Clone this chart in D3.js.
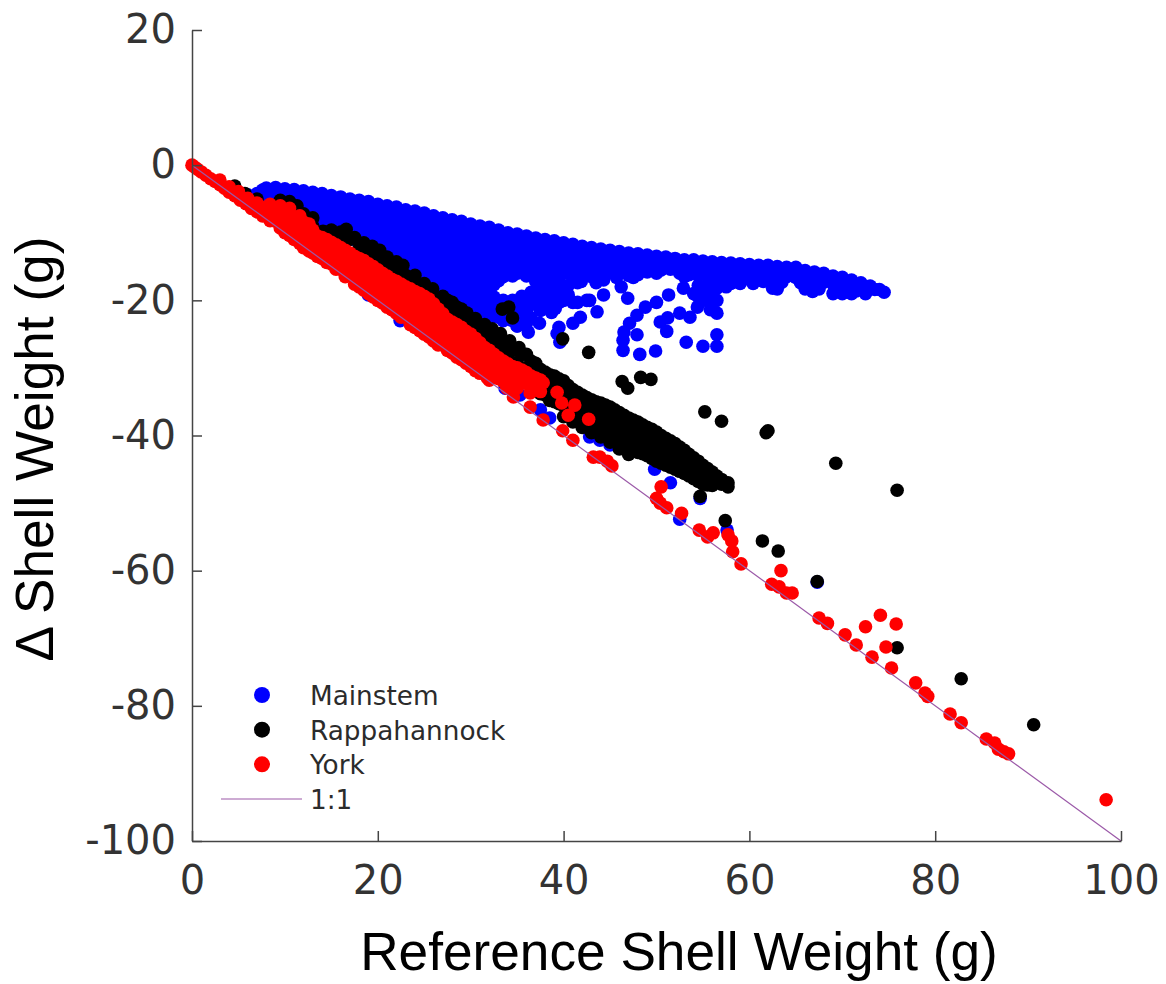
<!DOCTYPE html>
<html lang="en">
  <head>
    <meta charset="UTF-8" />
    <title>Shell weight</title>
    <style>
      body {
        margin: 0;
        background: #fff;
      }
    </style>
  </head>
  <body>
    <svg id="svg" width="1166" height="984"></svg>
    <script src="https://cdn.jsdelivr.net/npm/d3@7"></script>
    <script>
      // DATA as [reference weight, delta weight]
      const xTicks = [0, 20, 40, 60, 80, 100];
      const yTicks = [20, 0, -20, -40, -60, -80, -100];
      const oneToOne = [[0, 0], [100, -100]];

      const mainstem = [
        [6, -4.4], [7, -4.2], [7.6, -3.7], [8, -3.4], [8, -5], [9, -3.3], [9, -4.6], [9, -6],
        [10, -3.5], [10, -5], [10, -6.5], [11, -3.6], [11, -5.1], [11, -6.6],
        [12, -3.8], [12, -5.3], [12, -6.8], [13, -4], [13, -5.5], [13, -7],
        [14, -4.2], [14, -5.7], [14, -7.2], [14, -8.5], [15, -4.5], [15, -6], [15, -7.5], [15, -9],
        [16, -4.7], [16, -6.2], [16, -7.7], [16, -9.2], [17, -5], [17, -6.5], [17, -8], [17, -9.5], [17, -10.5],
        [18, -5.2], [18, -6.7], [18, -8.2], [18, -9.7], [18, -11], [19, -5.4], [19, -6.9], [19, -8.4], [19, -9.9], [19, -11.4],
        [20, -5.8], [20, -7.3], [20, -8.8], [20, -10.3], [20, -11.8], [20, -12.8],
        [21, -6], [21, -7.5], [21, -9], [21, -10.5], [21, -12], [21, -13.3],
        [22, -6.2], [22, -7.7], [22, -9.2], [22, -10.7], [22, -12.2], [22, -13.7],
        [23, -6.6], [23, -8.1], [23, -9.6], [23, -11.1], [23, -12.6], [23, -14.1], [23, -15.2],
        [24, -6.8], [24, -8.3], [24, -9.8], [24, -11.3], [24, -12.8], [24, -14.3], [24, -15.8],
        [25, -7.1], [25, -8.6], [25, -10.1], [25, -11.6], [25, -13.1], [25, -14.6], [25, -16.1], [25, -17],
        [26, -7.5], [26, -9], [26, -10.5], [26, -12], [26, -13.5], [26, -15], [26, -16.5], [26, -18],
        [27, -7.8], [27, -9.3], [27, -10.8], [27, -12.3], [27, -13.8], [27, -15.3], [27, -16.8], [27, -18.3], [27, -19],
        [28, -8.1], [28, -9.6], [28, -11.1], [28, -12.6], [28, -14.1], [28, -15.6], [28, -17.1], [28, -18.6], [28, -20],
        [29, -8.3], [29, -9.8], [29, -11.3], [29, -12.8], [29, -14.3], [29, -15.8], [29, -17.3], [29, -18.8], [29, -20.5],
        [30, -8.7], [30, -10.2], [30, -11.7], [30, -13.2], [30, -14.7], [30, -16.2], [30, -17.7], [30, -19.2], [30, -21],
        [31, -9], [31, -10.5], [31, -12], [31, -13.5], [31, -15], [31, -16.5], [31, -18], [31, -19.5], [31, -21],
        [32, -9.2], [32, -10.7], [32, -12.2], [32, -13.7], [32, -15.2], [32, -16.7], [32, -18.2], [32, -21.5],
        [33, -9.6], [33, -11.1], [33, -12.6], [33, -14.1], [33, -15.6], [33, -17.1], [33, -21], [33, -22.5],
        [34, -10], [34, -11.5], [34, -13], [34, -14.5], [34, -16], [34, -20.6], [34, -22.2],
        [35, -10.2], [35, -11.7], [35, -13.2], [35, -14.7], [35, -16], [35, -20.4], [35, -22], [35, -23.8],
        [36, -10.5], [36, -12], [36, -13.5], [36, -15], [36, -16.4], [36, -20], [36, -21.5], [36, -23.4], [36.2, -24.7],
        [37, -10.8], [37, -12.3], [37, -13.8], [37, -15.3], [37, -17.2], [37, -19.5], [37.4, -23.4],
        [38, -11], [38, -12.5], [38, -14], [38, -15.5], [38, -17], [38, -19], [38, -20.5],
        [39, -11.2], [39, -12.7], [39, -14.2], [39, -15.7], [39, -17.2], [39, -19.5], [39.1, -21.2], [38.7, -21.8],
        [40, -11.5], [40, -13], [40, -14.5], [40, -16], [40, -18], [40, -20],
        [41, -11.7], [41, -13.2], [41, -14.7], [41, -17], [41, -20.3], [41.9, -17.2],
        [42, -12], [42, -13.5], [42, -15], [43, -12.2], [43, -13.7], [43, -15.2], [43, -16.5],
        [44, -12.4], [44, -13.9], [44, -15.2], [45, -12.6], [45, -14.1], [45, -15.6],
        [46, -12.8], [46, -14.3], [46, -15.8], [47, -13], [47, -14.5], [47, -16.3],
        [48, -13.1], [48, -14.6], [48, -16.2], [49, -13.3], [49, -14.8], [49, -15.8],
        [50, -13.5], [50, -15], [50, -16], [51, -13.6], [51, -15], [52, -13.8], [52, -15.2],
        [53, -14], [53, -15.4], [53, -16.5], [54, -14], [54, -15.4], [54, -19], [54.6, -18.7],
        [55, -14.2], [55, -15.6], [55, -20], [55.8, -19.5], [56, -14.3], [56, -15.8], [56, -17.3], [56, -20.5],
        [57, -14.4], [57, -15.9], [57, -17.3], [58, -14.5], [58, -16], [58, -17.5],
        [59, -14.6], [59, -16], [59, -17.5], [60, -14.7], [60, -16], [60.4, -17.5],
        [61, -14.8], [61, -16.2], [62, -14.8], [62, -16.3], [62.5, -18.2], [63, -15], [63, -16.5], [63, -18.3],
        [64, -15.1], [64, -16.5], [65, -15.1], [65, -16.6], [66, -15.6], [66, -17], [66, -18.3],
        [67, -15.8], [67, -17.2], [66.8, -18.7], [68, -16], [68, -17.3], [69, -16.4], [69, -17.6], [69, -19],
        [70, -16.6], [70, -17.8], [70, -19], [71, -17], [71, -18], [71, -19], [72, -17.4], [72, -18.3],
        [73, -17.9], [74, -18.4], [74.5, -18.8],
        // in-between columns of the wedge
        [9.5, -4], [9.5, -5.3], [10.5, -4.3], [10.5, -5.8], [11.5, -4.5], [11.5, -6],
        [12.5, -4.7], [12.5, -6.2], [12.5, -7.4], [13.5, -4.9], [13.5, -6.4], [13.5, -7.9],
        [14.5, -5.1], [14.5, -6.6], [14.5, -8.1], [14.5, -9.3], [15.5, -5.3], [15.5, -6.8], [15.5, -8.3], [15.5, -9.5],
        [16.5, -5.6], [16.5, -7.1], [16.5, -8.6], [16.5, -10], [17.5, -5.8], [17.5, -7.3], [17.5, -8.8], [17.5, -10.3], [17.5, -11],
        [18.5, -6], [18.5, -7.5], [18.5, -9], [18.5, -10.5], [18.5, -11.5], [19.5, -6.3], [19.5, -7.8], [19.5, -9.3], [19.5, -10.8], [19.5, -12.2],
        [20.5, -6.6], [20.5, -8.1], [20.5, -9.6], [20.5, -11.1], [20.5, -12.6],
        [21.5, -6.8], [21.5, -8.3], [21.5, -9.8], [21.5, -11.3], [21.5, -12.8], [21.5, -14],
        [22.5, -7.1], [22.5, -8.6], [22.5, -10.1], [22.5, -11.6], [22.5, -13.1], [22.5, -14.6],
        [23.5, -7.4], [23.5, -8.9], [23.5, -10.4], [23.5, -11.9], [23.5, -13.4], [23.5, -14.9],
        [24.5, -7.7], [24.5, -9.2], [24.5, -10.7], [24.5, -12.2], [24.5, -13.7], [24.5, -15.2], [24.5, -16.5],
        [25.5, -8], [25.5, -9.5], [25.5, -11], [25.5, -12.5], [25.5, -14], [25.5, -15.5], [25.5, -17],
        [26.5, -8.4], [26.5, -9.9], [26.5, -11.4], [26.5, -12.9], [26.5, -14.4], [26.5, -15.9], [26.5, -17.4], [26.5, -18.6],
        [27.5, -8.7], [27.5, -10.2], [27.5, -11.7], [27.5, -13.2], [27.5, -14.7], [27.5, -16.2], [27.5, -17.7], [27.5, -19.2],
        [28.5, -9], [28.5, -10.5], [28.5, -12], [28.5, -13.5], [28.5, -15], [28.5, -16.5], [28.5, -18], [28.5, -19.5], [28.5, -20.5],
        [29.5, -9.3], [29.5, -10.8], [29.5, -12.3], [29.5, -13.8], [29.5, -15.3], [29.5, -16.8], [29.5, -18.3], [29.5, -19.8], [29.5, -21.2],
        [30.5, -9.6], [30.5, -11.1], [30.5, -12.6], [30.5, -14.1], [30.5, -15.6], [30.5, -17.1], [30.5, -18.6], [30.5, -20.1], [30.5, -21.6],
        [31.5, -9.9], [31.5, -11.4], [31.5, -12.9], [31.5, -14.4], [31.5, -15.9], [31.5, -17.4], [31.5, -18.9], [31.5, -20.4], [31.5, -22],
        [32.5, -10.2], [32.5, -11.7], [32.5, -13.2], [32.5, -14.7], [32.5, -16.2], [32.5, -17.7], [32.5, -19.5], [32.5, -21], [32.5, -22.4],
        [33.5, -10.5], [33.5, -12], [33.5, -13.5], [33.5, -15], [33.5, -16.5], [33.5, -20], [33.5, -21.5], [33.5, -23],
        [34.5, -10.9], [34.5, -12.4], [34.5, -13.9], [34.5, -15.4], [34.5, -16.4], [34.5, -20], [34.5, -21.5], [34.5, -23],
        [35.5, -11.2], [35.5, -12.7], [35.5, -14.2], [35.5, -15.7], [35.5, -19.4], [35.5, -21], [35.5, -22.8],
        [36.5, -11.5], [36.5, -13], [36.5, -14.5], [36.5, -16], [36.5, -18.8], [36.5, -20.6], [36.5, -22.6],
        [37.5, -11.7], [37.5, -13.2], [37.5, -14.7], [37.5, -16.2], [37.5, -18], [37.5, -19.8], [37.5, -21.5],
        [38.5, -11.9], [38.5, -13.4], [38.5, -14.9], [38.5, -16.4], [38.5, -18], [38.5, -19.8],
        [39.5, -12.2], [39.5, -13.7], [39.5, -15.2], [39.5, -16.8], [39.5, -18.4], [39.5, -20.3],
        [40.5, -12.4], [40.5, -13.9], [40.5, -15.3], [40.5, -17.8], [40.5, -19.2],
        [41.5, -12.7], [41.5, -14.2], [41.5, -15.7], [41.5, -17.4], [41.5, -20.3],
        [42.5, -12.9], [42.5, -14.4], [42.5, -15.9], [42.5, -20], [43.5, -13.1], [43.5, -14.6], [43.5, -16], [43.5, -17.4],
        [44.5, -13.3], [44.5, -14.8], [44.5, -16.2], [45.5, -13.5], [45.5, -15], [46.5, -13.6], [46.5, -15.2],
        [47.5, -13.8], [47.5, -15.4], [47.5, -16.6], [48.5, -14], [48.5, -15.4], [49.5, -14.1], [49.5, -15.5],
        [50.5, -14.3], [50.5, -15.5], [51.5, -14.4], [51.5, -15.4], [52.5, -14.6], [52.5, -16], [53.5, -14.7], [53.5, -16.2],
        [54.5, -14.8], [54.5, -16.3], [54.5, -17.8], [54.5, -19.5], [55.5, -15], [55.5, -16.5], [55.5, -18], [55.5, -19.5],
        [56.5, -15], [56.5, -16.6], [56.5, -18.2], [56.5, -20], [57.5, -15.2], [57.5, -16.7], [57.5, -18],
        [58.5, -15.3], [58.5, -16.8], [59.5, -15.4], [59.5, -16.8], [60.5, -15.5], [60.5, -16.7],
        [61.5, -15.6], [61.5, -17.2], [62.5, -15.6], [62.5, -17.2], [63.5, -15.8], [63.5, -17.3], [64.5, -15.8],
        [65.5, -16.1], [65.5, -17.4], [66.5, -16.5], [66.5, -17.8], [67.5, -16.7], [67.5, -18.3], [68.5, -17],
        [69.5, -17.2], [69.5, -18.5], [70.5, -17.5], [70.5, -18.5], [71.5, -18], [71.5, -18.6], [72.5, -18], [72.5, -19], [73.5, -18.4],
        // loose arcs below the wedge
        [56.5, -25.1], [56.5, -26.8], [55, -26.8], [53.2, -26.2], [49.9, -27.5], [48.2, -28],
        [46.4, -27.4], [46.4, -25.9], [46.5, -24.7], [47.9, -25.1], [47.1, -23.4], [47.9, -22.2],
        [48.8, -21], [50, -20.3], [51.3, -19.2], [46.9, -19.7], [46.2, -18], [45.7, -16.6],
        [44.3, -17], [44.3, -19.2], [42.8, -20], [43.6, -21.7], [41.8, -22.5], [41, -23.4],
        [39.5, -24], [39.3, -24.9], [39.6, -26.2], [35, -23.8], [50.4, -23.2], [51.2, -22.6],
        [51.1, -24.6], [52.5, -21.9], [53.6, -22.5], [54.4, -21], [52.9, -18.2], [55.8, -21.4], [56.5, -21.9],
        // low points along the 1:1 line
        [19, -19.2], [22.4, -23], [30.8, -30], [33.7, -33], [35.3, -34], [37.5, -36.2], [38.5, -37.4],
        [42.8, -40.2], [43.9, -40.7], [45, -41.4], [49.8, -45], [51.5, -47], [54.7, -49.3], [52.5, -52.4],
        [57.6, -54], [67.3, -61.7],
      ];

      const rappahannock = [
        [4.6, -3.1], [5.7, -4.2], [7, -5], [9.5, -5.2], [10.5, -5.4], [11.3, -6], [12, -7.2], [13, -7.8],
        [14.1, -9.8], [15, -9.6], [16, -9.9], [16.6, -9.5], [17.5, -10.7], [18.5, -11.5], [19.4, -12],
        [20.2, -12.6], [21, -13.6], [22, -14.3], [22.7, -14.8], [24, -16.3], [25, -17.5], [25.9, -18.3],
        [27, -19.4], [28, -20.3], [29, -21.3], [29.6, -21.9], [30.5, -22.7], [31.5, -23.6], [32.3, -24.2],
        [33.2, -24.9], [34.2, -26], [35.2, -27], [27, -21], [28, -22], [29, -23], [30, -24], [31, -25.2],
        [32, -26.2], [33, -27.2], [34, -28], [35, -29.2],
        [10, -6], [11, -7], [12, -8.2], [13, -9], [14, -10.5], [15, -10.8], [16, -11], [17, -11], [18, -12.3],
        [19, -13], [20, -13.8], [21, -14.8], [22, -15.6], [23, -16.3], [24, -17.4], [25, -18.5], [26, -19.6],
        [27.5, -20], [28.5, -21], [29.5, -22.8], [30.5, -24], [31.5, -24.8], [32.5, -25.8], [33.5, -26.4], [34.5, -27.4], [35.5, -28],
        [36, -28], [36, -30], [37, -29.3], [37, -31], [37, -33], [38, -30.6], [38, -32.3], [38, -34],
        [39, -31.2], [39, -33], [39, -35], [40, -31.9], [40, -33.6], [40, -35.6], [41, -33.2], [41, -35], [41, -36.8],
        [42, -34], [42, -35.7], [42, -37.4], [43, -34.7], [43, -36.4], [43, -38.2], [44, -35.2], [44, -37], [44, -39],
        [45, -35.8], [45, -37.6], [45, -40], [46, -36.6], [46, -38.4], [46, -40.8], [47, -37.4], [47, -39.4], [47, -41.8],
        [48, -38], [48, -40], [48, -42.5], [49, -38.8], [49, -41], [49, -43], [50, -39.5], [50, -41.5], [50, -43.8],
        [51, -40.4], [51, -42.3], [51, -44.4], [52, -41.2], [52, -43], [52, -45], [53, -42.2], [53, -43.8], [53, -45.6],
        [54, -43.3], [54, -44.8], [54, -46.4], [55, -44.4], [55, -45.8], [55, -47.2], [56, -45.4], [56, -46.6], [56, -47.4],
        [57, -46.5], [57, -47.2], [57.7, -47], [57.7, -47.6],
        [36.5, -29], [36.5, -31], [37.5, -30.2], [37.5, -32], [37.5, -33.8], [38.5, -31], [38.5, -33], [38.5, -34.8],
        [39.5, -31.6], [39.5, -33.4], [39.5, -35.3], [40.5, -32.6], [40.5, -34.5], [40.5, -36.2], [41.5, -33.6], [41.5, -35.4], [41.5, -37],
        [42.5, -34.4], [42.5, -36], [42.5, -37.9], [43.5, -35], [43.5, -36.8], [43.5, -38.6], [44.5, -35.5], [44.5, -37.4], [44.5, -39.5],
        [45.5, -36.2], [45.5, -38], [45.5, -40.4], [46.5, -37], [46.5, -39], [46.5, -41.3], [47.5, -37.7], [47.5, -39.8], [47.5, -42.2],
        [48.5, -38.4], [48.5, -40.5], [48.5, -42.7], [49.5, -39.1], [49.5, -41.2], [49.5, -43.4], [50.5, -40], [50.5, -42], [50.5, -44.1],
        [51.5, -40.8], [51.5, -42.7], [51.5, -44.7], [52.5, -41.7], [52.5, -43.4], [52.5, -45.3], [53.5, -42.8], [53.5, -44.3], [53.5, -46],
        [54.5, -43.8], [54.5, -45.3], [54.5, -46.8], [55.5, -44.9], [55.5, -46.2], [55.5, -47.3], [56.5, -46], [56.5, -47],
        // thick middle of the band
        [44, -38], [45, -38.8], [46, -39.6], [47, -40.6], [48, -41.2], [49, -42], [50, -42.7], [51, -43.3], [52, -44], [53, -44.7], [54, -45.6],
        [44.5, -38.4], [45.5, -39.2], [46.5, -40.2], [47.5, -41], [48.5, -41.6], [49.5, -42.3], [50.5, -43], [51.5, -43.7], [52.5, -44.3], [53.5, -45.2],
        [47, -38.4], [48, -39], [49, -39.9], [50, -40.5], [51, -41.3], [47.5, -38.7], [48.5, -39.4], [49.5, -40.1], [50.5, -41], [51.5, -41.7],
        [40, -37.2], [41, -38], [42, -38.8], [43, -39.6], [44, -40.2], [45, -41], [46, -42], [47, -42.8],
        // scattered
        [33.4, -21.3], [34.1, -21], [34.5, -22.6], [39.9, -25.7], [42.7, -27.7], [46.3, -32], [46.9, -33],
        [48.3, -31.4], [49.4, -31.7], [55.2, -36.5], [57, -37.9], [62, -39.3], [61.8, -39.6], [69.3, -44.1],
        [75.9, -48.1], [54.7, -49], [57.4, -52.6], [61.4, -55.6], [63.1, -57.1], [67.3, -61.6], [75.9, -71.4],
        [82.8, -76], [90.6, -82.8],
      ];

      const york = [
        [0, 0], [0.3, -0.3], [0.6, -0.6], [1, -1], [1.5, -1.5], [2, -2], [2.5, -2.4], [3, -2.9], [3.5, -3.4],
        [4, -4], [4.6, -4.5], [5.2, -5.2], [5.8, -5.7], [6.4, -6.4], [7, -6.9], [7.6, -7.5],
        [3, -2.2], [4, -3.2], [5, -3.9], [6, -4.9], [7, -5.6], [8, -6.2],
        [8.4, -5.8], [8.4, -7], [8.4, -8.2], [9.5, -6], [9.5, -7.5], [9.5, -9.3],
        [10.5, -6.4], [10.5, -8], [10.5, -9.5], [10.5, -10.4], [11.6, -7.5], [11.6, -9], [11.6, -10.5], [11.6, -11.6],
        [12.6, -8.7], [12.6, -10.2], [12.6, -11.6], [12.6, -12.7], [13.5, -10.5], [13.5, -12], [13.5, -13.5],
        [14.5, -11], [14.5, -12.5], [14.5, -14.4], [15.5, -11.8], [15.5, -13.3], [15.5, -15.4],
        [16.5, -12.6], [16.5, -14.1], [16.5, -15.6], [16.5, -16.5], [17.5, -13.5], [17.5, -15], [17.5, -16.4], [17.5, -17.6],
        [18.5, -14.1], [18.5, -15.6], [18.5, -17], [18.5, -18.5], [19.5, -15], [19.5, -16.5], [19.5, -18], [19.5, -19.5],
        [20.5, -16], [20.5, -17.5], [20.5, -19], [20.5, -20.4], [21.5, -16.9], [21.5, -18.4], [21.5, -19.9], [21.5, -21.4],
        [22.5, -17.6], [22.5, -19.1], [22.5, -20.6], [22.5, -22.5], [23.5, -18.3], [23.5, -19.8], [23.5, -21.3], [23.5, -22.8], [23.5, -23.6],
        [24.5, -19], [24.5, -20.5], [24.5, -22], [24.5, -23.5], [24.5, -24.5], [25.5, -19.8], [25.5, -21.3], [25.5, -22.8], [25.5, -24.3], [25.5, -25.4],
        [26.5, -21.3], [26.5, -22.8], [26.5, -24.3], [26.5, -25.8], [26.5, -26.6], [27.5, -22.8], [27.5, -24.3], [27.5, -25.8], [27.5, -27.4],
        [28.5, -23.6], [28.5, -25.1], [28.5, -26.6], [28.5, -28.4], [29.5, -24.6], [29.5, -26.1], [29.5, -27.6], [29.5, -29.3],
        [30.5, -25.6], [30.5, -27.1], [30.5, -28.6], [30.5, -30.4], [31.5, -27], [31.5, -28.5], [31.5, -30], [31.8, -31.5],
        [32.5, -28], [32.5, -29.5], [32.5, -31], [33.5, -29], [33.5, -30.5], [33.5, -32], [33.9, -33], [34.5, -29.8], [34.5, -31.3], [34.6, -34.3],
        [35.5, -30.3], [35.5, -32], [36.4, -33.7], [36.4, -35.8], [36.5, -31.2], [37.5, -31.8], [37.5, -33.5], [37.8, -37.7],
        // in-between columns of the band
        [9, -6.6], [9, -8.3], [10, -7], [10, -8.7], [10, -10], [11, -7.7], [11, -9.4], [11, -11], [12, -8.4], [12, -9.8], [12, -11.4], [12, -12.2],
        [13, -9.6], [13, -11], [13, -12.6], [13, -13], [14, -10.7], [14, -12.2], [14, -13.8], [15, -11.4], [15, -13], [15, -14.6],
        [16, -12.2], [16, -13.8], [16, -15.4], [17, -13], [17, -14.6], [17, -16.2], [18, -13.8], [18, -15.3], [18, -17], [18, -18],
        [19, -14.6], [19, -16], [19, -17.6], [19, -19], [20, -15.5], [20, -17], [20, -18.6], [20, -20], [21, -16.4], [21, -18], [21, -19.5], [21, -21],
        [22, -17.2], [22, -18.8], [22, -20.3], [22, -21.9], [23, -18], [23, -19.5], [23, -21], [23, -22.5],
        [24, -18.7], [24, -20.2], [24, -21.7], [24, -23.2], [24, -24], [25, -19.4], [25, -21], [25, -22.5], [25, -24], [25, -25],
        [26, -20.5], [26, -22], [26, -23.6], [26, -25], [26, -26], [27, -22], [27, -23.6], [27, -25], [27, -26.6],
        [28, -23.2], [28, -24.7], [28, -26.2], [28, -27.8], [29, -24], [29, -25.6], [29, -27], [29, -28.8],
        [30, -25], [30, -26.6], [30, -28], [30, -29.8], [31, -26.3], [31, -27.8], [31, -29.3], [31, -30.8],
        [32, -27.4], [32, -29], [32, -30.5], [32, -31.8], [33, -28.5], [33, -30], [33, -31.6],
        [34, -29.4], [34, -31], [34, -32.4], [35, -30], [35, -31.6], [35, -33], [36, -30.7], [36, -32.3], [37, -31.5], [37, -33.2],
        // scattered
        [37.8, -32.2], [39.3, -33.6], [39.8, -35.2], [41.2, -35.5], [40.5, -37], [42.7, -37.6], [39.9, -39.3], [41, -40.7],
        [43.2, -43.2], [43.9, -43.2], [44.7, -43.8], [45.2, -44.5],
        [50.5, -47.6], [50, -49.3], [50.4, -50], [51.1, -50.7], [52.7, -51.5], [54.6, -54], [55.5, -55], [56.1, -54.4],
        [57.7, -54.7], [58.1, -55.6], [58.2, -57.2], [59.1, -59], [63.4, -60], [62.4, -62], [63.2, -62.4], [64, -63.3], [64.6, -63.3],
        [67.5, -67], [68.4, -67.8], [70.3, -69.5], [71.5, -71], [72.5, -68.3], [73.2, -72.8], [74.1, -66.6], [74.7, -71.3],
        [75.3, -74.4], [75.8, -67.9], [77.9, -76.6], [78.9, -78.1], [79.2, -78.6], [81.6, -81.2], [82.8, -82.5],
        [85.5, -84.9], [86.4, -85.5], [86.8, -86.4], [87.4, -86.8], [87.9, -87.1], [98.4, -93.9],
      ];

      const seriesNames = ["Mainstem", "Rappahannock", "York"];
      const seriesColors = ["#0000ff", "#000000", "#ff0000"];
      const lineColor = "#9b59a8";

      // CONSTANTS
      const LEFT = 192;
      const RIGHT = 1121;
      const TOP = 30;
      const BOTTOM = 841;
      const AXIS_COLOR = "#444";
      const TEXT_COLOR = "#2b2b2b";

      const x = d3.scaleLinear().domain([0, 100]).range([LEFT, RIGHT]);
      const y = d3.scaleLinear().domain([-100, 20]).range([BOTTOM, TOP]);

      const svg = d3.select("#svg");

      // Dots
      [mainstem, rappahannock, york].forEach((points, i) => {
        svg
          .append("g")
          .selectAll("circle")
          .data(points)
          .enter()
          .append("circle")
          .attr("cx", (d) => x(d[0]))
          .attr("cy", (d) => y(d[1]))
          .attr("r", 6.8)
          .attr("fill", seriesColors[i]);
      });

      // 1:1 line sits over the dots
      svg
        .append("path")
        .attr("d", d3.line().x((d) => x(d[0])).y((d) => y(d[1]))(oneToOne))
        .attr("fill", "none")
        .attr("stroke", lineColor)
        .attr("stroke-width", 1.2);

      // Axes, ticks point inwards
      const xAxis = svg
        .append("g")
        .attr("transform", `translate(0, ${BOTTOM})`)
        .call(d3.axisBottom(x).tickValues(xTicks).tickFormat(String).tickSizeInner(-10).tickSizeOuter(0).tickPadding(25));
      const yAxis = svg
        .append("g")
        .attr("transform", `translate(${LEFT}, 0)`)
        .call(d3.axisLeft(y).tickValues(yTicks).tickFormat(String).tickSizeInner(-10).tickSizeOuter(0).tickPadding(16));

      [xAxis, yAxis].forEach((axis) => {
        axis.selectAll("path, line").attr("stroke", AXIS_COLOR).attr("stroke-width", 1.5);
        axis
          .selectAll("text")
          .attr("fill", "#333")
          .style("font-family", "DejaVu Sans")
          .style("font-size", "40px");
      });

      // Axis titles
      svg
        .append("text")
        .text("Reference Shell Weight (g)")
        .attr("x", 679)
        .attr("y", 970)
        .attr("text-anchor", "middle")
        .style("font-family", "Liberation Sans")
        .style("font-size", "53.2px");
      svg
        .append("text")
        .text("Δ Shell Weight (g)")
        .attr("transform", "translate(53, 449) rotate(-90)")
        .attr("text-anchor", "middle")
        .style("font-family", "Liberation Sans")
        .style("font-size", "53.2px");

      // Legend
      const legendY = d3.scalePoint().domain(seriesNames.concat("1:1")).range([695, 799]);
      const legend = svg.append("g");
      legend
        .selectAll("circle")
        .data(seriesNames)
        .enter()
        .append("circle")
        .attr("cx", 262)
        .attr("cy", (d) => legendY(d))
        .attr("r", 8)
        .attr("fill", (d, i) => seriesColors[i]);
      legend
        .append("line")
        .attr("x1", 221)
        .attr("x2", 302)
        .attr("y1", legendY("1:1"))
        .attr("y2", legendY("1:1"))
        .attr("stroke", lineColor)
        .attr("stroke-width", 1.2);
      legend
        .selectAll("text")
        .data(legendY.domain())
        .enter()
        .append("text")
        .text((d) => d)
        .attr("x", 310)
        .attr("y", (d) => legendY(d) + 10)
        .attr("fill", TEXT_COLOR)
        .style("font-family", "DejaVu Sans")
        .style("font-size", "26.3px");
    </script>
  </body>
</html>
